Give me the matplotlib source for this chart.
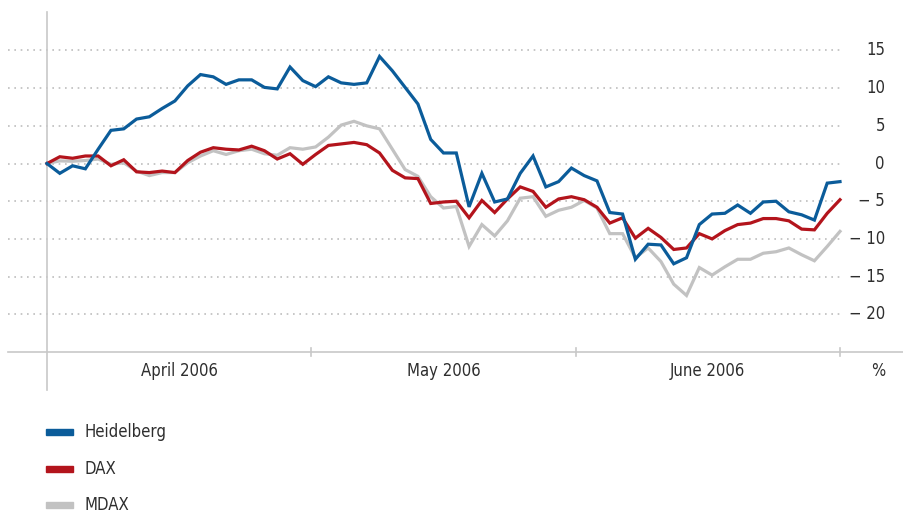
import numpy as np
import matplotlib
matplotlib.use("Agg")
import matplotlib.pyplot as plt
from matplotlib.patches import Rectangle

plt.rcParams['font.family'] = ['DejaVu Sans']
plt.rcParams['font.stretch'] = 'condensed'

# ==========================
# DATA (Veränderung in %, Handelstage April - Juni 2006)
# ==========================
heidelberg = [0, -1.3, -0.3, -0.7, 1.9, 4.4, 4.6, 5.9, 6.2, 7.3,
              8.3, 10.3, 11.8, 11.5, 10.5, 11.1, 11.1, 10.1, 9.9, 12.8,
              11.0, 10.2, 11.5, 10.7, 10.5, 10.7, 14.2, 12.3, 10.1, 7.9,
              3.2, 1.4, 1.4, -5.75, -1.3, -5.1, -4.7, -1.3, 1.0, -3.1,
              -2.4, -0.6, -1.6, -2.3, -6.5, -6.7, -12.7, -10.7, -10.8, -13.3,
              -12.5, -8.1, -6.7, -6.6, -5.5, -6.6, -5.1, -5.0, -6.4, -6.8,
              -7.5, -2.6, -2.4]
dax = [0, 0.9, 0.7, 1.0, 1.0, -0.3, 0.5, -1.1, -1.2, -1.0,
       -1.2, 0.4, 1.5, 2.1, 1.9, 1.8, 2.3, 1.7, 0.6, 1.3,
       -0.1, 1.2, 2.4, 2.6, 2.8, 2.5, 1.4, -0.9, -1.9, -2.0,
       -5.3, -5.1, -5.0, -7.2, -4.9, -6.5, -4.7, -3.1, -3.7, -5.8,
       -4.7, -4.4, -4.8, -5.8, -7.9, -7.2, -9.9, -8.6, -9.8, -11.4,
       -11.2, -9.3, -10.0, -8.9, -8.1, -7.9, -7.3, -7.3, -7.6, -8.7,
       -8.8, -6.6, -4.8]
mdax = [0, 0.35, 0.3, 0.4, 0.6, -0.1, 0.1, -1.0, -1.6, -1.2,
        -1.2, 0.1, 1.0, 1.7, 1.2, 1.7, 1.9, 1.3, 1.1, 2.1,
        1.9, 2.2, 3.5, 5.1, 5.6, 5.0, 4.6, 1.9, -0.8, -1.7,
        -4.4, -5.9, -5.7, -11.0, -8.1, -9.6, -7.6, -4.6, -4.4, -7.0,
        -6.2, -5.8, -4.9, -5.9, -9.3, -9.3, -12.5, -11.2, -13.0, -16.0,
        -17.5, -13.8, -14.8, -13.7, -12.7, -12.7, -11.9, -11.7, -11.2, -12.1,
        -12.9, -11.0, -9.0]

names = ["Heidelberg", "DAX", "MDAX"]
colors = ["#0b5c9a", "#b3141c", "#c2c2c2"]
months = ["April 2006", "May 2006", "June 2006"]
yticks = [15, 10, 5, 0, -5, -10, -15, -20]

# ==========================
# LAYOUT (pixel based)
# ==========================
W, H = 904, 513
fig = plt.figure(figsize=(W / 100, H / 100), dpi=100)

n = len(heidelberg)
x0_px, x1_px = 47, 840          # first / last data point
px_per = (x1_px - x0_px) / (n - 1)
ax_left, ax_right = 8, 904
ax_top, ax_bot = 12, 352
ymax, ymin = 20.1, -25

ax = fig.add_axes([ax_left / W, (H - ax_bot) / H,
                   (ax_right - ax_left) / W, (ax_bot - ax_top) / H])
xlo = -(x0_px - ax_left) / px_per
xhi = (n - 1) + (ax_right - x1_px) / px_per
ax.set_xlim(xlo, xhi)
ax.set_ylim(ymin, ymax)
ax.axis('off')

grey = "#c8c8c8"
txt = "#2e2e2e"
fs = 12

# dotted grid
grid_end = (n - 1) + 2 / px_per
for v in yticks:
    ax.plot([xlo, grid_end], [v, v], color="#bdbdbd", lw=1.2,
            linestyle=(0, (1, 2.8)), dash_capstyle='butt', zorder=1)
    lab = str(v) if v >= 0 else "\u2212 " + str(abs(v))
    ax.text((n - 1) + 45 / px_per, v, lab, ha='right', va='center',
            fontsize=fs, color=txt)

# axes lines
ax.plot([xlo, xhi], [ymin, ymin], color=grey, lw=1.2, clip_on=False, zorder=2)
ax.plot([0, 0], [ymin - 38 / 7.54, ymax], color=grey, lw=1.2, clip_on=False, zorder=2)

# month ticks
bounds = np.linspace(0, n - 1, len(months) + 1)
for b in bounds[1:]:
    ax.plot([b, b], [ymin - 0.5, ymin + 0.5], color=grey, lw=1.2, clip_on=False)
for i, m in enumerate(months):
    ax.text((bounds[i] + bounds[i + 1]) / 2, ymin - 19 / 7.54, m,
            ha='center', va='center', fontsize=fs, color=txt)
ax.text((n - 1) + 45 / px_per, ymin - 19 / 7.54, "%", ha='right', va='center',
        fontsize=fs, color=txt)

# series
x = np.arange(n)
for data, c, z in zip([mdax, dax, heidelberg], colors[::-1], [3, 4, 5]):
    ax.plot(x, data, color=c, lw=2.3, solid_joinstyle='miter', zorder=z)

# legend
for k, (name, c) in enumerate(zip(names, colors)):
    yc = 432 + k * 36.5
    fig.patches.append(Rectangle((46 / W, (H - yc - 3) / H), 27 / W, 6 / H,
                                 transform=fig.transFigure, color=c))
    fig.text(85 / W, (H - yc) / H, name, ha='left', va='center',
             fontsize=fs, color=txt)

fig.savefig("out.png", dpi=100)
